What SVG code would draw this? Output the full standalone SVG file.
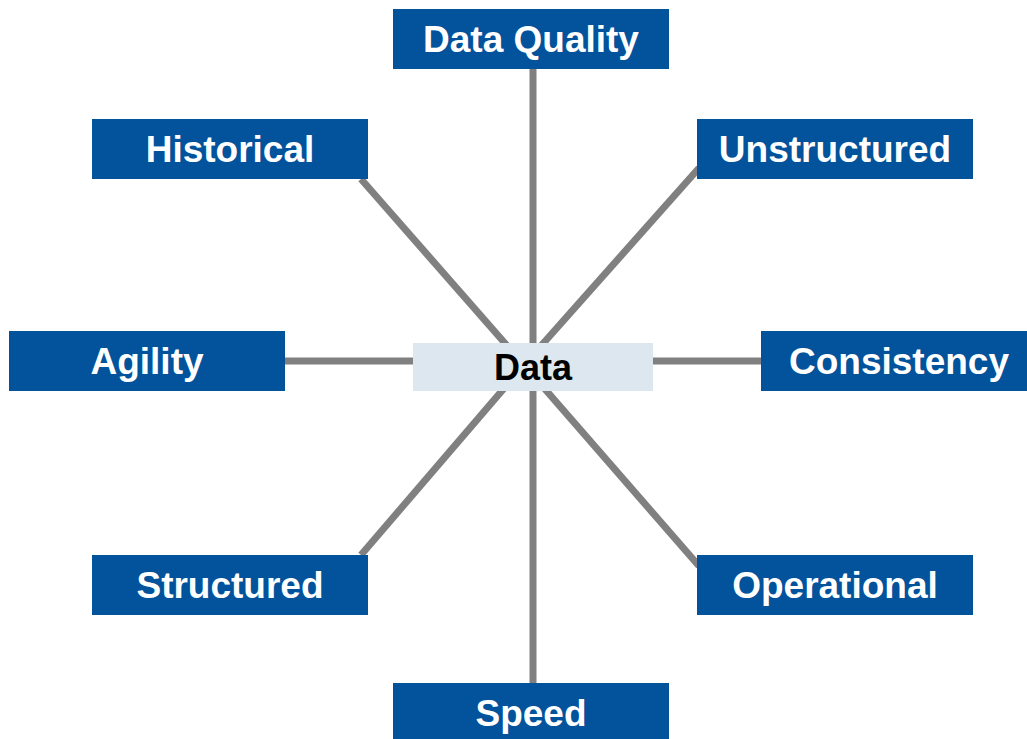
<svg xmlns="http://www.w3.org/2000/svg" width="1027" height="739" viewBox="0 0 1027 739">
<style>
.box{fill:#02529c}
.lbl{font-family:"Liberation Sans",Arial,sans-serif;font-weight:bold;font-size:37px;fill:#ffffff;text-anchor:middle}
.ctr{fill:#000000;font-size:36px}
.conn line{stroke:#808080;stroke-width:7;stroke-linecap:butt}
</style>
<rect width="1027" height="739" fill="#ffffff"/>
<g id="connectors" class="conn">
<line x1="533" y1="69" x2="533" y2="683"/>
<line x1="285" y1="361" x2="761" y2="361"/>
<line x1="361" y1="179" x2="524" y2="365"/>
<line x1="699" y1="168" x2="524" y2="365"/>
<line x1="361" y1="555" x2="524" y2="365"/>
<line x1="699" y1="566" x2="524" y2="365"/>
</g>
<g id="node-data">
<rect x="413" y="343" width="240" height="48" fill="#dde7ef"/>
<text class="lbl ctr" x="533" y="380">Data</text>
</g>
<g id="node-data-quality">
<rect class="box" x="393" y="9" width="276" height="60"/>
<text class="lbl" x="531" y="52">Data Quality</text>
</g>
<g id="node-historical">
<rect class="box" x="92" y="119" width="276" height="60"/>
<text class="lbl" x="230" y="162">Historical</text>
</g>
<g id="node-unstructured">
<rect class="box" x="697" y="119" width="276" height="60"/>
<text class="lbl" x="835" y="162">Unstructured</text>
</g>
<g id="node-agility">
<rect class="box" x="9" y="331" width="276" height="60"/>
<text class="lbl" x="147" y="374">Agility</text>
</g>
<g id="node-consistency">
<rect class="box" x="761" y="331" width="276" height="60"/>
<text class="lbl" x="899" y="374">Consistency</text>
</g>
<g id="node-structured">
<rect class="box" x="92" y="555" width="276" height="60"/>
<text class="lbl" x="230" y="598">Structured</text>
</g>
<g id="node-operational">
<rect class="box" x="697" y="555" width="276" height="60"/>
<text class="lbl" x="835" y="598">Operational</text>
</g>
<g id="node-speed">
<rect class="box" x="393" y="683" width="276" height="60"/>
<text class="lbl" x="531" y="726">Speed</text>
</g>
</svg>
